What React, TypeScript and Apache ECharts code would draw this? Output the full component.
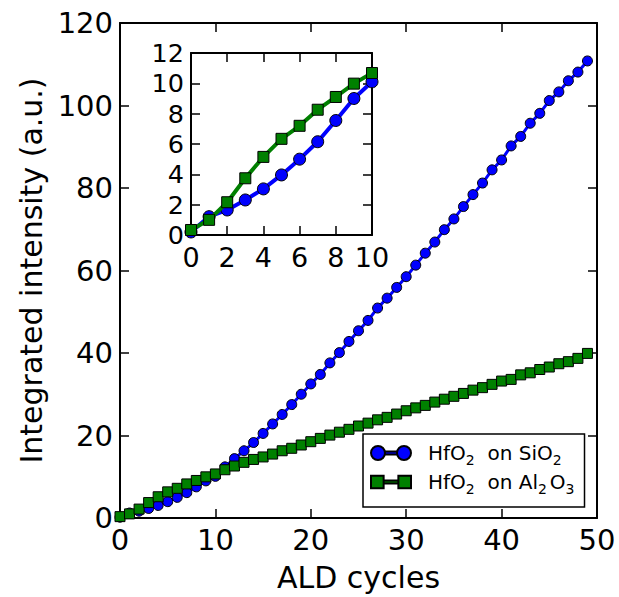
import React, { useEffect, useRef } from "react";
import * as echarts from "echarts";

const cycles = [0, 1, 2, 3, 4, 5, 6, 7, 8, 9, 10, 11, 12, 13, 14, 15, 16, 17, 18, 19, 20, 21, 22, 23, 24, 25, 26, 27, 28, 29, 30, 31, 32, 33, 34, 35, 36, 37, 38, 39, 40, 41, 42, 43, 44, 45, 46, 47, 48, 49];

const hfo2OnSiO2 = [0.2, 1.21, 1.65, 2.31, 3.04, 3.96, 5.0, 6.15, 7.55, 9.0, 10.1, 12.4, 14.4, 16.3, 18.3, 20.5, 22.8, 25.1, 27.5, 30.0, 32.5, 34.8, 37.6, 40.1, 42.8, 45.4, 47.9, 50.9, 53.3, 55.9, 58.5, 61.3, 64.2, 66.9, 69.9, 72.5, 75.5, 78.4, 81.2, 84.4, 86.8, 90.2, 92.5, 95.7, 98.1, 101.2, 103.3, 106.0, 108.1, 110.8];

const hfo2OnAl2O3 = [0.33, 1.0, 2.16, 3.74, 5.15, 6.34, 7.2, 8.26, 9.1, 9.98, 10.68, 11.7, 12.6, 13.5, 14.2, 14.8, 15.5, 16.3, 16.9, 17.7, 18.5, 19.3, 20.1, 20.8, 21.5, 22.3, 23.0, 23.8, 24.4, 25.2, 26.0, 26.7, 27.3, 28.1, 28.8, 29.5, 30.2, 31.0, 31.6, 32.4, 33.2, 33.6, 34.7, 35.2, 36.0, 36.6, 37.4, 37.9, 38.7, 39.9];

const insetCount = 11; // cycles 0..10 shown in the inset

const seriesNames = ["HfO2 on SiO2", "HfO2 on Al2O3"];
const legendRich = [
  "{g| }{a|HfO}{s|2}{a|  on SiO}{s|2}",
  "{g| }{a|HfO}{s|2}{a|  on Al}{s|2}{o|O}{s|3}",
];

const xTitle = "ALD cycles";
const yTitle = "Integrated intensity (a.u.)";

const FONT = "DejaVu Sans";
const BLUE = "#0000ff";
const GREEN = "#008000";

const pairs = (xs: number[], ys: number[], n?: number) =>
  xs.slice(0, n ?? xs.length).map((x, i) => [x, ys[i]]);

const circleIcon =
  "path://M0,7A7,7,0,1,0,14,7A7,7,0,1,0,0,7ZM26,7A7,7,0,1,0,40,7A7,7,0,1,0,26,7ZM14,5.5L26,5.5L26,8.5L14,8.5Z";
const squareIcon =
  "path://M1,1L13,1L13,13L1,13ZM27,1L39,1L39,13L27,13ZM13,5.5L27,5.5L27,8.5L13,8.5Z";

function axisX(gridIndex: number, min: number, max: number, interval: number, position: "bottom" | "top", labels: boolean, fontSize: number, extra: any = {}) {
  return {
    type: "value",
    gridIndex,
    min,
    max,
    interval,
    position,
    axisLine: { show: true, onZero: false, lineStyle: { color: "#000", width: 2 } },
    axisTick: { show: true, inside: true, length: 9, lineStyle: { color: "#000", width: 1.5 } },
    axisLabel: {
      show: labels,
      color: "#000",
      fontSize,
      lineHeight: 26,
      fontFamily: FONT,
      margin: 9,
    },
    splitLine: { show: false },
    ...extra,
  };
}

function axisY(gridIndex: number, min: number, max: number, interval: number, position: "left" | "right", labels: boolean, fontSize: number, extra: any = {}) {
  return {
    type: "value",
    gridIndex,
    min,
    max,
    interval,
    position,
    axisLine: { show: true, onZero: false, lineStyle: { color: "#000", width: 2 } },
    axisTick: { show: true, inside: true, length: 9, lineStyle: { color: "#000", width: 1.5 } },
    axisLabel: {
      show: labels,
      color: "#000",
      fontSize,
      lineHeight: 26,
      fontFamily: FONT,
      margin: 7,
    },
    splitLine: { show: false },
    ...extra,
  };
}

export default function App() {
  const ref = useRef<HTMLDivElement>(null);

  useEffect(() => {
    document.body.style.margin = "0";
    const chart = echarts.init(ref.current!, null, { renderer: "svg" });

    const option: any = {
      animation: false,
      backgroundColor: "#fff",
      textStyle: { fontFamily: FONT },
      grid: [
        { left: 120, top: 23, width: 477, height: 496, containLabel: false },
        { left: 191, top: 53, width: 181, height: 182, containLabel: false, show: true, backgroundColor: "#fff", borderWidth: 0, z: 5 },
      ],
      xAxis: [
        axisX(0, 0, 50, 10, "bottom", true, 29, {
          name: xTitle,
          nameLocation: "middle",
          nameGap: 44,
          nameTextStyle: { color: "#000", fontSize: 30, fontFamily: FONT },
        }),
        axisX(0, 0, 50, 10, "top", false, 29),
        axisX(1, 0, 10, 2, "bottom", true, 27, { z: 6 }),
        axisX(1, 0, 10, 2, "top", false, 27, { z: 6 }),
      ],
      yAxis: [
        axisY(0, 0, 120, 20, "left", true, 29, {
          name: yTitle,
          nameLocation: "middle",
          nameGap: 74,
          nameRotate: 90,
          nameTextStyle: { color: "#000", fontSize: 30, fontFamily: FONT },
        }),
        axisY(0, 0, 120, 20, "right", false, 29),
        axisY(1, 0, 12, 2, "left", true, 25.5, { z: 6 }),
        axisY(1, 0, 12, 2, "right", false, 25.5, { z: 6 }),
      ],
      legend: {
        data: [
          { name: seriesNames[0], icon: circleIcon },
          { name: seriesNames[1], icon: squareIcon },
        ],
        orient: "vertical",
        left: 363,
        top: 434,
        padding: [9, 10, 11, 7],
        itemGap: 5,
        itemWidth: 40,
        itemHeight: 14,
        borderColor: "#000",
        borderWidth: 1.5,
        backgroundColor: "#fff",
        formatter: (name: string) => legendRich[seriesNames.indexOf(name)],
        textStyle: {
          color: "#000",
          fontFamily: FONT,
          fontSize: 20,
          rich: {
            g: { width: 12 },
            a: { fontSize: 20, lineHeight: 28, fontFamily: FONT, color: "#000", verticalAlign: "middle" },
            o: { fontSize: 20, lineHeight: 28, fontFamily: FONT, color: "#000", verticalAlign: "middle", padding: [0, 0, 0, 3] },
            s: { fontSize: 14, lineHeight: 10, fontFamily: FONT, color: "#000", verticalAlign: "bottom" },
          },
        },
      },
      series: [
        {
          name: seriesNames[0],
          type: "line",
          xAxisIndex: 0,
          yAxisIndex: 0,
          data: pairs(cycles, hfo2OnSiO2),
          symbol: "circle",
          symbolSize: 10,
          lineStyle: { color: BLUE, width: 3 },
          itemStyle: { color: BLUE, borderColor: "#000", borderWidth: 1 },
          z: 2,
        },
        {
          name: seriesNames[1],
          type: "line",
          xAxisIndex: 0,
          yAxisIndex: 0,
          data: pairs(cycles, hfo2OnAl2O3),
          symbol: "rect",
          symbolSize: 10,
          lineStyle: { color: GREEN, width: 3 },
          itemStyle: { color: GREEN, borderColor: "#000", borderWidth: 1 },
          z: 3,
        },
        {
          name: seriesNames[0],
          type: "line",
          xAxisIndex: 2,
          yAxisIndex: 2,
          data: pairs(cycles, hfo2OnSiO2, insetCount),
          symbol: "circle",
          symbolSize: 12,
          lineStyle: { color: BLUE, width: 4 },
          itemStyle: { color: BLUE, borderColor: "#000", borderWidth: 1 },
          z: 7,
        },
        {
          name: seriesNames[1],
          type: "line",
          xAxisIndex: 2,
          yAxisIndex: 2,
          data: pairs(cycles, hfo2OnAl2O3, insetCount),
          symbol: "rect",
          symbolSize: 11,
          lineStyle: { color: GREEN, width: 4 },
          itemStyle: { color: GREEN, borderColor: "#000", borderWidth: 1 },
          z: 8,
        },
      ],
    };

    chart.setOption(option);
    return () => chart.dispose();
  }, []);

  return <div ref={ref} style={{ width: 619, height: 597 }} />;
}
